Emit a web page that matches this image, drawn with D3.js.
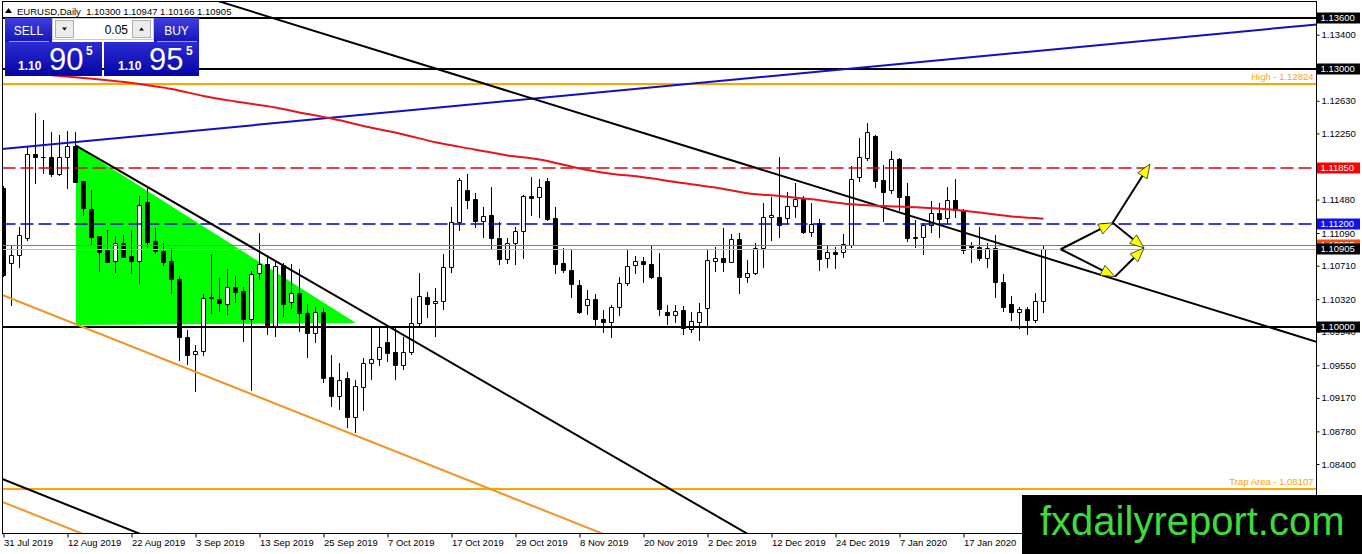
<!DOCTYPE html>
<html>
<head>
<meta charset="utf-8">
<title>EURUSD Daily</title>
<script src="https://cdn.jsdelivr.net/npm/d3@7"></script>
<style>
  body { margin: 0; background: #fff; }
  svg { display: block; font-family: 'Liberation Sans', Arial, sans-serif; }
</style>
</head>
<body>
<div class="chart-container"></div>
<script>
// candles, bar 0 = 31 Jul 2019
const opens = [
  1.11615,1.10738,1.10834,1.11029,1.12011,1.11972,1.11972,1.11778,1.11972,1.12107,
  1.11696,1.11366,1.11056,1.10893,1.10765,1.10978,1.10823,1.10768,1.11451,1.10994,
  1.10881,1.10761,1.10555,1.09876,1.09678,1.09720,1.10342,1.10325,1.10260,1.10458,
  1.10415,1.10085,1.10621,1.10726,1.09999,1.10714,1.10283,1.10388,1.10155,1.09923,
  1.10174,1.09410,1.09196,1.09405,1.08951,1.09301,1.09573,1.09620,1.09818,1.09701,
  1.09553,1.09701,1.10039,1.10342,1.10272,1.10302,1.10691,1.11222,1.11591,1.11487,
  1.11234,1.11300,1.11029,1.10791,1.10978,1.11114,1.11521,1.11506,1.11696,1.11262,
  1.10738,1.10660,1.10485,1.10252,1.10318,1.10085,1.10050,1.10225,1.10512,1.10718,
  1.10768,1.10730,1.10582,1.10174,1.10136,1.10194,1.09973,1.10058,1.10214,1.10768,
  1.10796,1.10756,1.11017,1.10575,1.10621,1.10912,1.11273,1.11273,1.11262,1.11408,
  1.11483,1.11106,1.11203,1.10796,1.10866,1.10873,1.10951,1.11743,1.11961,1.12220,
  1.11708,1.11591,1.11952,1.11521,1.11036,1.11040,1.11184,1.11320,1.11262,1.11475,
  1.11358,1.10935,1.10931,1.10796,1.10919,1.10523,1.10264,1.10171,1.10202,1.10077,
  1.10300];
const highs = [
  1.11640,1.10951,1.11164,1.12096,1.12485,1.12407,1.12270,1.12232,1.12282,1.12270,
  1.11700,1.11591,1.11060,1.11125,1.11056,1.11067,1.11125,1.11521,1.11611,1.11145,
  1.10978,1.10919,1.10593,1.09961,1.09786,1.10380,1.10846,1.10563,1.10668,1.10590,
  1.10458,1.10652,1.11087,1.10834,1.10756,1.10745,1.10730,1.10668,1.10260,1.10232,
  1.10214,1.09670,1.09573,1.09468,1.09379,1.09631,1.09988,1.09981,1.09981,1.09981,
  1.09883,1.10330,1.10621,1.10407,1.10446,1.10842,1.11390,1.11731,1.11778,1.11553,
  1.11390,1.11623,1.11215,1.11029,1.11164,1.11533,1.11739,1.11716,1.11728,1.11397,
  1.10912,1.10901,1.10543,1.10427,1.10380,1.10194,1.10252,1.10575,1.10893,1.10823,
  1.10807,1.10951,1.10861,1.10252,1.10252,1.10240,1.10167,1.10279,1.10893,1.10931,
  1.11145,1.11079,1.11087,1.10776,1.10971,1.11436,1.11513,1.11979,1.11571,1.11676,
  1.11521,1.11436,1.11250,1.10939,1.10931,1.11075,1.11871,1.12193,1.12375,1.12232,
  1.11882,1.12049,1.11961,1.11669,1.11242,1.11203,1.11467,1.11436,1.11623,1.11716,
  1.11366,1.10989,1.11164,1.10971,1.11067,1.10610,1.10357,1.10232,1.10232,1.10388,
  1.10947];
const lows = [
  1.10590,1.10252,1.10698,1.11009,1.11669,1.11786,1.11754,1.11766,1.11611,1.11684,
  1.11300,1.10951,1.10651,1.10752,1.10640,1.10811,1.10628,1.10505,1.10931,1.10854,
  1.10718,1.10395,1.09611,1.09565,1.09254,1.09670,1.10155,1.10186,1.10144,1.10290,
  1.09836,1.09262,1.10551,1.09914,1.09891,1.10124,1.10221,1.09953,1.09650,1.09825,
  1.09359,1.09079,1.09037,1.08835,1.08777,1.09029,1.09390,1.09553,1.09603,1.09390,
  1.09507,1.09681,1.09999,1.10116,1.09895,1.10205,1.10640,1.11125,1.11378,1.11164,
  1.11047,1.10919,1.10726,1.10738,1.10726,1.10796,1.11300,1.11280,1.11242,1.10621,
  1.10640,1.10349,1.10155,1.10147,1.10019,1.09941,1.09883,1.10136,1.10485,1.10621,
  1.10523,1.10563,1.10136,1.10031,1.10058,1.09914,1.09941,1.09844,1.09999,1.10652,
  1.10652,1.10753,1.10388,1.10523,1.10613,1.10691,1.11009,1.11047,1.11211,1.11280,
  1.11094,1.11056,1.10660,1.10691,1.10679,1.10807,1.10931,1.11699,1.11941,1.11623,
  1.11234,1.11560,1.11358,1.10997,1.10924,1.10842,1.11106,1.11040,1.11203,1.11273,
  1.10854,1.10756,1.10776,1.10691,1.10349,1.10186,1.10077,1.09981,1.09914,1.10050,
  1.10166];
const closes = [
  1.10601,1.10831,1.11067,1.12011,1.11972,1.11976,1.11778,1.11972,1.12107,1.11688,
  1.11378,1.11047,1.10873,1.10756,1.10978,1.10815,1.10768,1.11413,1.10989,1.10884,
  1.10756,1.10551,1.09883,1.09670,1.09720,1.10330,1.10338,1.10272,1.10458,1.10407,
  1.10085,1.10610,1.10726,1.10000,1.10706,1.10264,1.10388,1.10155,1.09923,1.10174,
  1.09405,1.09192,1.09379,1.08951,1.09309,1.09573,1.09620,1.09767,1.09697,1.09553,
  1.09701,1.10039,1.10357,1.10260,1.10302,1.10698,1.11222,1.11708,1.11475,1.11230,
  1.11292,1.11029,1.10791,1.10978,1.11114,1.11521,1.11498,1.11623,1.11254,1.10726,
  1.10660,1.10493,1.10174,1.10318,1.10085,1.10050,1.10225,1.10505,1.10706,1.10768,
  1.10730,1.10575,1.10202,1.10136,1.10186,1.09981,1.10066,1.10171,1.10776,1.10796,
  1.10756,1.11017,1.10582,1.10621,1.10912,1.11273,1.11297,1.11184,1.11408,1.11483,
  1.11106,1.11195,1.10784,1.10866,1.10846,1.10959,1.11719,1.11972,1.12270,1.11699,
  1.11571,1.11949,1.11513,1.11029,1.11040,1.11184,1.11320,1.11254,1.11475,1.11358,
  1.10893,1.10931,1.10796,1.10919,1.10523,1.10232,1.10167,1.10202,1.10077,1.10299,
  1.10905];

// time axis
const tickBars = [0, 8, 16, 24, 32, 40, 48, 56, 64, 72, 80, 88, 96, 104, 112, 120];
const tickLabels = ['31 Jul 2019', '12 Aug 2019', '22 Aug 2019', '3 Sep 2019', '13 Sep 2019',
  '25 Sep 2019', '7 Oct 2019', '17 Oct 2019', '29 Oct 2019', '8 Nov 2019', '20 Nov 2019',
  '2 Dec 2019', '12 Dec 2019', '24 Dec 2019', '7 Jan 2020', '17 Jan 2020'];

// price axis
const priceTicks = [1.13400, 1.12630, 1.12250, 1.11480, 1.11090, 1.10710, 1.10320,
  1.09940, 1.09550, 1.09170, 1.08780, 1.08400, 1.08010];

// moving average
const maBars = [5, 10, 17, 21, 25, 29, 34, 38, 41, 46, 50, 54, 59, 63, 67, 72, 75, 80, 84, 89,
  93, 97, 101, 106, 110, 114, 118, 122, 126, 130];
const maValues = [1.12936, 1.12896, 1.12826, 1.12768, 1.12686, 1.12622, 1.12552, 1.12476,
  1.12424, 1.12316, 1.12238, 1.12147, 1.12061, 1.11993, 1.11946, 1.11842, 1.11793, 1.11739,
  1.11684, 1.11620, 1.11553, 1.11521, 1.11483, 1.11425, 1.11405, 1.11390, 1.11366, 1.11329,
  1.11283, 1.11257];

// horizontal lines
const levelNames = ['res1', 'res2', 'high', 'red', 'blue', 'ask', 'bid', 'sup', 'trap'];
const levelPrices = [1.13600, 1.13000, 1.12824, 1.11850, 1.11200, 1.10955, 1.10905, 1.10000, 1.08107];
const levelTexts = ['', '', 'High - 1.12824', '', '', '', '', '', 'Trap Area - 1.08107'];

// trend lines as [bar, price] pairs
const trendNames = ['blue', 'fall', 'wedge', 'channel', 'channelLow', 'blackLow'];
const trendStart = [[-1, 1.12062], [20, 1.13989], [9.06, 1.12107], [-1, 1.10400], [-1, 1.07991], [-1, 1.08256]];
const trendEnd = [[165, 1.13527], [170, 1.09653], [95, 1.07479], [80, 1.07399], [12, 1.07508], [19, 1.07515]];

// green triangle
const triangleBars = [9.06, 9.06, 44.06];
const trianglePrices = [1.12107, 1.10019, 1.10042];

// scenario arrows
const arrowFrom = [[132.15, 1.10901], [138.65, 1.11210], [138.65, 1.11210], [132.15, 1.10901], [138.94, 1.10582]];
const arrowTo = [[138.65, 1.11210], [143.31, 1.11894], [142.56, 1.10916], [138.94, 1.10582], [142.56, 1.10916]];

const titleText = 'EURUSD,Daily  1.10300 1.10947 1.10166 1.10905';

// setup canvas
const svg_width = 1362, svg_height = 554;
const frame = { left: 2.5, top: 1.5, right: 1316.5, bottom: 533.5 };

const xScale = d3.scaleLinear().domain([0, 1]).range([3.5, 11.5]);
const yScale = d3.scaleLinear().domain([1.136, 1.084]).range([17.5, 464]);
const pt = d => [xScale(d[0]), yScale(d[1])];

const svg = d3.select('.chart-container').append('svg')
  .attr('width', svg_width).attr('height', svg_height);
svg.append('rect').attr('width', svg_width).attr('height', svg_height).attr('fill', '#fff');

const defs = svg.append('defs');
defs.append('clipPath').attr('id', 'plot-clip').append('rect')
  .attr('x', frame.left).attr('y', frame.top)
  .attr('width', frame.right - frame.left).attr('height', frame.bottom - frame.top);
function grad(id, top, bottom) {
  const g = defs.append('linearGradient').attr('id', id).attr('x1', 0).attr('x2', 0).attr('y1', 0).attr('y2', 1);
  g.append('stop').attr('offset', '0%').attr('stop-color', top);
  g.append('stop').attr('offset', '100%').attr('stop-color', bottom);
}
grad('btn-grad', '#4040e0', '#1414b8');
grad('price-grad', '#2c2cd4', '#0505a4');

const plot = svg.append('g').attr('clip-path', 'url(#plot-clip)');

// triangle in background
plot.append('path')
  .attr('d', d3.line()(triangleBars.map((b, i) => pt([b, trianglePrices[i]]))) + 'Z')
  .attr('fill', '#00ff00');

// candles
const candles = d3.range(opens.length).map(i => ({ i, o: opens[i], h: highs[i], l: lows[i], c: closes[i] }));
plot.selectAll('.wick').data(candles).enter().append('line').attr('class', 'wick')
  .attr('x1', d => xScale(d.i)).attr('x2', d => xScale(d.i))
  .attr('y1', d => Math.round(yScale(d.h))).attr('y2', d => Math.round(yScale(d.l)) + 1)
  .attr('stroke', '#000').attr('stroke-width', 1);
plot.selectAll('.body').data(candles).enter().append('path').attr('class', 'body')
  .attr('d', d => {
    const x0 = xScale(d.i) - 2, x1 = xScale(d.i) + 2;
    const y0 = Math.round(yScale(Math.max(d.o, d.c))) + 0.5;
    const y1 = Math.round(yScale(Math.min(d.o, d.c))) + 0.5;
    return `M${x0},${y0}H${x1}V${y1}H${x0}Z`;
  })
  .attr('fill', d => d.c >= d.o ? '#fff' : '#000')
  .attr('stroke', '#000').attr('stroke-width', 1);

// horizontal levels
const levelStyle = {
  res1: { stroke: '#000', width: 2, box: '#000' },
  res2: { stroke: '#000', width: 2, box: '#000' },
  high: { stroke: '#ffa500', width: 2 },
  red: { stroke: '#e00000', width: 1.5, dash: '13,5', box: '#ff0000' },
  blue: { stroke: '#0000c8', width: 1.5, dash: '13,5', box: '#1010f0' },
  ask: { stroke: '#ee5a1e', width: 1, box: '#f05010' },
  bid: { stroke: '#b8b8b8', width: 1, box: '#000' },
  sup: { stroke: '#000', width: 2, box: '#000' },
  trap: { stroke: '#ffa500', width: 2 }
};
levelNames.forEach((name, i) => {
  const st = levelStyle[name];
  const yy = st.width % 2 === 1 ? Math.round(yScale(levelPrices[i])) + 0.5 : Math.round(yScale(levelPrices[i]));
  plot.append('line')
    .attr('x1', frame.left).attr('x2', frame.right).attr('y1', yy).attr('y2', yy)
    .attr('stroke', st.stroke).attr('stroke-width', st.width)
    .attr('stroke-dasharray', st.dash || null);
  if (levelTexts[i]) {
    plot.append('text').text(levelTexts[i])
      .attr('x', frame.right - 3).attr('y', yy - 4)
      .attr('text-anchor', 'end').style('font-size', '9.5px').style('fill', '#ffa500');
  }
});

// trend lines
const trendStyle = {
  blue: { stroke: '#1010c4' }, fall: { stroke: '#000' }, wedge: { stroke: '#000' },
  channel: { stroke: '#f39322' }, channelLow: { stroke: '#f39322' }, blackLow: { stroke: '#000' }
};
trendNames.forEach((name, i) => {
  plot.append('path')
    .attr('d', d3.line()([pt(trendStart[i]), pt(trendEnd[i])]))
    .attr('stroke', trendStyle[name].stroke).attr('stroke-width', 2).attr('fill', 'none');
});

// moving average
plot.append('path')
  .datum(maBars.map((b, i) => [b, maValues[i]]))
  .attr('d', d3.line().x(d => xScale(d[0])).y(d => yScale(d[1])).curve(d3.curveMonotoneX))
  .attr('stroke', '#e8141c').attr('stroke-width', 2).attr('fill', 'none');

// arrows
arrowFrom.forEach((a, i) => {
  const p0 = pt(a), p1 = pt(arrowTo[i]);
  const dx = p1[0] - p0[0], dy = p1[1] - p0[1];
  const len = Math.hypot(dx, dy), ux = dx / len, uy = dy / len;
  const headLen = 14, headW = 5.5;
  const bx = p1[0] - ux * headLen, by = p1[1] - uy * headLen;
  plot.append('line')
    .attr('x1', p0[0]).attr('y1', p0[1]).attr('x2', bx).attr('y2', by)
    .attr('stroke', '#000').attr('stroke-width', 2);
  plot.append('path')
    .attr('d', `M${p1[0]},${p1[1]}L${bx - uy * headW},${by + ux * headW}L${bx + uy * headW},${by - ux * headW}Z`)
    .attr('fill', '#ffff00').attr('stroke', '#222').attr('stroke-width', 0.8);
});

// frame
svg.append('rect')
  .attr('x', frame.left).attr('y', frame.top)
  .attr('width', frame.right - frame.left).attr('height', frame.bottom - frame.top)
  .attr('fill', 'none').attr('stroke', '#000').attr('stroke-width', 1);

// time axis
const xAxis = d3.axisBottom(xScale).tickValues(tickBars)
  .tickFormat((d, i) => tickLabels[i]).tickSizeInner(4).tickSizeOuter(0).tickPadding(2);
const xAxisDraw = svg.append('g').attr('class', 'x axis')
  .attr('transform', `translate(0,${frame.bottom})`).call(xAxis);
xAxisDraw.select('.domain').remove();
xAxisDraw.selectAll('text').attr('text-anchor', 'start').attr('x', 0)
  .style('font-family', "'Liberation Sans', Arial, sans-serif").style('font-size', '9.5px').style('fill', '#000');

// price axis
const yAxis = d3.axisRight(yScale).tickValues(priceTicks)
  .tickFormat(d3.format('.5f')).tickSizeInner(3).tickSizeOuter(0).tickPadding(2);
const yAxisDraw = svg.append('g').attr('class', 'y axis')
  .attr('transform', `translate(${frame.right},0)`).call(yAxis);
yAxisDraw.select('.domain').remove();
yAxisDraw.selectAll('text')
  .style('font-family', "'Liberation Sans', Arial, sans-serif").style('font-size', '9.5px').style('fill', '#000');

// price boxes on the axis
levelNames.forEach((name, i) => {
  const st = levelStyle[name];
  if (!st.box) return;
  const yy = Math.round(yScale(levelPrices[i]));
  svg.append('rect').attr('x', 1317).attr('y', yy - 5.5).attr('width', 43).attr('height', 11).attr('fill', st.box);
  svg.append('text').text(d3.format('.5f')(levelPrices[i]))
    .attr('x', 1320.5).attr('y', yy).attr('dy', '0.35em')
    .style('font-size', '9.5px').style('fill', '#fff');
});

// title
svg.append('path').attr('d', 'M5,13L8.5,8L12,13Z').attr('fill', '#000');
svg.append('text').text(titleText).attr('x', 17).attr('y', 14.5)
  .style('font-size', '9.5px').style('fill', '#000').style('white-space', 'pre');

// one click trading panel
const panel = svg.append('g').attr('transform', 'translate(5,18)');
panel.append('rect').attr('x', 0).attr('y', 0).attr('width', 47).attr('height', 24).attr('fill', 'url(#btn-grad)');
panel.append('rect').attr('x', 149).attr('y', 0).attr('width', 45).attr('height', 24).attr('fill', 'url(#btn-grad)');
panel.append('text').text('SELL').attr('x', 23.5).attr('y', 16.5).attr('text-anchor', 'middle')
  .style('font-size', '12px').style('fill', '#fff');
panel.append('text').text('BUY').attr('x', 171.5).attr('y', 16.5).attr('text-anchor', 'middle')
  .style('font-size', '12px').style('fill', '#fff');
panel.append('line').attr('x1', 4).attr('x2', 44).attr('y1', 23.5).attr('y2', 23.5).attr('stroke', '#9a9af0').attr('stroke-width', 1);
panel.append('line').attr('x1', 152).attr('x2', 192).attr('y1', 23.5).attr('y2', 23.5).attr('stroke', '#9a9af0').attr('stroke-width', 1);
panel.append('rect').attr('x', 47.5).attr('y', 0.5).attr('width', 101).attr('height', 21).attr('fill', '#fff').attr('stroke', '#c8c8c8');
panel.append('rect').attr('x', 50.5).attr('y', 2.5).attr('width', 18).attr('height', 17).attr('fill', '#ececec').attr('stroke', '#b0b0b0');
panel.append('rect').attr('x', 127.5).attr('y', 2.5).attr('width', 18).attr('height', 17).attr('fill', '#ececec').attr('stroke', '#b0b0b0');
panel.append('path').attr('d', 'M57,9.5L62,9.5L59.5,12.5Z').attr('fill', '#000');
panel.append('path').attr('d', 'M134,12.5L139,12.5L136.5,9.5Z').attr('fill', '#000');
panel.append('text').text('0.05').attr('x', 123).attr('y', 15.5).attr('text-anchor', 'end')
  .style('font-size', '12px').style('fill', '#000');
panel.append('rect').attr('x', 0).attr('y', 24).attr('width', 97).attr('height', 34).attr('fill', 'url(#price-grad)');
panel.append('rect').attr('x', 99).attr('y', 24).attr('width', 95).attr('height', 34).attr('fill', 'url(#price-grad)');
[[13, '90'], [113, '95']].forEach(([px, big]) => {
  panel.append('text').text('1.10').attr('x', px).attr('y', 52)
    .style('font-size', '12px').style('font-weight', 'bold').style('fill', '#fff');
  panel.append('text').text(big).attr('x', px + 31).attr('y', 52)
    .style('font-size', '31px').style('fill', '#fff');
  panel.append('text').text('5').attr('x', px + 68).attr('y', 37)
    .style('font-size', '12px').style('font-weight', 'bold').style('fill', '#fff');
});

// site logo
svg.append('rect').attr('x', 1022).attr('y', 495).attr('width', 340).attr('height', 59).attr('fill', '#000');
svg.append('text').text('fxdailyreport.com').attr('x', 1040).attr('y', 535)
  .style('font-size', '40px').style('fill', '#3ddc3d');
</script>
</body>
</html>
